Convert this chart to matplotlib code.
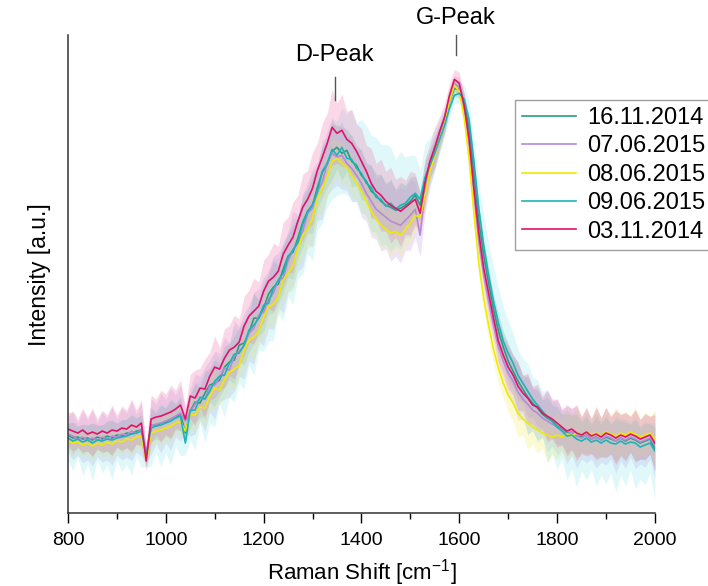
#!/usr/bin/env python
'''
    Raman spectra of several samples with shaded spread bands.
'''
import numpy as np
import matplotlib
matplotlib.use('Agg')
import matplotlib.pyplot as plt

plt.rcParams['font.family'] = ['Liberation Sans', 'DejaVu Sans']
plt.rcParams['mathtext.fontset'] = 'custom'
plt.rcParams['mathtext.rm'] = 'Liberation Sans'

# raman shift grid (cm^-1)
shift = np.arange(800, 2001, 10)

labels = ['16.11.2014', '07.06.2015', '08.06.2015', '09.06.2015', '03.11.2014']
colors = ['#2a9d80', '#b58ad9', '#f0ea00', '#1db4b8', '#e0136b']
band_colors = ['#4fb59a', '#c9a6e8', '#f4ef70', '#86e6ec', '#f07fb0']

# mean intensities (a.u.)
s_161114 = [78, 75, 76, 74, 75, 73, 76, 74, 77, 75, 78, 77, 80, 79, 82, 83, 55, 88, 87, 90,
            91, 94, 96, 99, 80, 102, 111, 110, 120, 128, 130, 133, 146, 151, 153, 168, 170, 180, 195, 195,
            205, 219, 226, 229, 244, 257, 261, 275, 291, 302, 308, 326, 341, 349, 362, 366, 360, 363, 352, 348,
            338, 332, 322, 318, 312, 308, 306, 303, 305, 308, 312, 318, 308, 334, 350, 362, 376, 392, 412, 425,
            424, 410, 385, 340, 292, 258, 230, 204, 182, 166, 152, 142, 132, 124, 116, 110, 105, 99, 95, 92,
            87, 84, 80, 81, 77, 76, 78, 74, 76, 73, 76, 74, 72, 75, 72, 75, 73, 70, 72, 74, 64]
s_070615 = [79, 77, 74, 76, 73, 75, 73, 76, 74, 77, 76, 79, 78, 82, 80, 84, 60, 87, 89, 90,
            92, 94, 97, 100, 92, 101, 109, 115, 114, 127, 128, 136, 145, 143, 157, 162, 167, 180, 185, 198,
            201, 214, 220, 233, 235, 252, 264, 270, 282, 300, 305, 322, 331, 350, 360, 356, 358, 350, 345, 338,
            330, 320, 312, 304, 300, 296, 292, 290, 288, 293, 298, 304, 278, 322, 344, 360, 376, 392, 414, 430,
            426, 404, 370, 318, 272, 238, 212, 188, 166, 152, 140, 132, 121, 114, 109, 103, 100, 95, 92, 89,
            86, 83, 79, 81, 77, 75, 78, 74, 76, 73, 77, 75, 72, 75, 73, 76, 74, 71, 73, 75, 68]
s_080615 = [72, 70, 71, 68, 70, 67, 70, 68, 71, 69, 72, 71, 74, 73, 76, 77, 52, 80, 82, 83,
            85, 87, 90, 92, 82, 99, 98, 106, 105, 117, 125, 123, 133, 141, 144, 148, 163, 173, 176, 182,
            196, 206, 209, 216, 233, 240, 247, 264, 278, 284, 295, 314, 325, 336, 352, 355, 350, 346, 338, 330,
            322, 312, 302, 294, 288, 284, 280, 282, 278, 284, 290, 298, 296, 318, 342, 358, 374, 390, 412, 428,
            422, 396, 355, 300, 250, 215, 188, 164, 145, 130, 118, 110, 100, 94, 90, 86, 83, 80, 78, 76,
            78, 76, 79, 77, 80, 78, 81, 78, 80, 77, 81, 79, 77, 80, 78, 81, 79, 76, 78, 80, 74]
s_090615 = [75, 72, 74, 71, 73, 70, 73, 72, 74, 73, 75, 76, 77, 79, 80, 82, 58, 85, 87, 88,
            90, 92, 95, 97, 70, 103, 103, 116, 114, 122, 132, 137, 138, 150, 159, 160, 168, 183, 188, 195,
            208, 210, 225, 233, 240, 256, 263, 271, 289, 301, 309, 321, 342, 350, 364, 358, 366, 355, 354, 345,
            340, 330, 326, 316, 314, 307, 310, 304, 308, 310, 316, 320, 314, 336, 348, 360, 374, 388, 405, 418,
            420, 414, 394, 352, 305, 268, 238, 212, 190, 172, 160, 150, 138, 130, 122, 114, 108, 102, 96, 92,
            86, 82, 77, 78, 74, 72, 75, 71, 73, 70, 73, 70, 69, 72, 69, 71, 70, 66, 68, 70, 62]
s_031114 = [84, 82, 80, 83, 79, 81, 79, 82, 80, 83, 82, 85, 84, 88, 86, 90, 52, 94, 96, 97,
            99, 101, 104, 108, 94, 117, 115, 125, 124, 137, 146, 144, 155, 163, 166, 171, 187, 197, 202, 207,
            222, 232, 236, 242, 259, 268, 276, 292, 306, 314, 325, 343, 356, 370, 386, 380, 383, 374, 370, 362,
            352, 342, 330, 322, 318, 312, 308, 305, 302, 306, 310, 314, 300, 330, 352, 366, 382, 396, 418, 434,
            430, 408, 375, 325, 280, 245, 220, 195, 172, 158, 146, 138, 127, 120, 115, 108, 106, 100, 97, 94,
            90, 86, 82, 84, 80, 78, 81, 77, 79, 76, 80, 78, 75, 78, 76, 79, 77, 74, 76, 78, 70]

# spread (half widths of the shaded bands)
w_161114 = [12, 16, 11, 15, 13, 17, 12, 14, 15, 18, 12, 16, 14, 19, 13, 15, 8,
            17, 13, 18, 14, 19, 13, 17, 10,
            16, 20, 15, 22, 17, 23, 16, 21, 18, 24, 17, 22, 19, 25, 18, 23, 20, 26, 19, 24, 21, 27, 20, 25, 22, 28, 21, 26, 23,
            28, 22, 27, 21, 26, 20, 25, 19, 26, 21, 27, 22, 28, 21, 26, 20, 24, 19, 14,
            18, 14, 15, 12, 11, 10, 8, 9,
            10, 12, 13, 15, 14, 16, 15, 17, 16, 18,
            16, 19, 14, 20, 15, 18, 14, 21, 16, 19, 15, 20, 17, 22, 15, 19, 14, 21, 16, 20, 15, 22, 17, 19, 14, 21, 16, 18, 15, 22]
w_070615 = [18, 24, 16, 26, 20, 28, 17, 25, 21, 29, 18, 26, 22, 30, 19, 27, 10,
            28, 20, 30, 22, 31, 21, 28, 12,
            24, 30, 22, 32, 26, 34, 24, 31, 27, 35, 25, 33, 28, 36, 26, 34, 29, 37, 27, 35, 30, 38, 28, 36, 31, 39, 29, 37, 32,
            36, 28, 34, 27, 33, 26, 34, 28, 36, 30, 38, 32, 40, 33, 38, 30, 35, 28, 22,
            22, 18, 16, 14, 12, 10, 8, 10,
            12, 14, 15, 17, 16, 19, 17, 20, 18, 22,
            22, 28, 20, 30, 21, 27, 19, 31, 22, 28, 20, 30, 23, 32, 21, 28, 20, 31, 22, 29, 21, 32, 23, 28, 20, 30, 22, 27, 21, 33]
w_080615 = [10, 14, 9, 13, 11, 15, 10, 12, 13, 16, 10, 14, 12, 17, 11, 13, 6,
            15, 11, 16, 12, 17, 11, 15, 8,
            14, 18, 13, 20, 15, 21, 14, 19, 16, 22, 15, 20, 17, 23, 16, 21, 18, 24, 17, 22, 19, 25, 18, 23, 20, 26, 19, 24, 21,
            24, 18, 22, 17, 21, 16, 20, 15, 22, 17, 23, 18, 24, 17, 22, 16, 20, 15, 10,
            14, 12, 11, 10, 9, 8, 7, 8,
            9, 11, 12, 14, 13, 15, 14, 16, 15, 17,
            18, 24, 16, 26, 17, 23, 15, 27, 18, 24, 16, 26, 19, 28, 17, 24, 16, 27, 18, 25, 17, 28, 19, 24, 16, 27, 18, 23, 17, 29]
w_090615_hi = [14, 18, 12, 17, 15, 20, 13, 16, 17, 21, 14, 18, 16, 22, 15, 19, 8,
               20, 15, 22, 16, 23, 15, 20, 10,
               18, 24, 17, 26, 20, 28, 18, 25, 21, 29, 19, 27, 22, 30, 20, 28, 23, 31, 21, 29, 24, 32, 22, 30, 25, 33, 23, 31, 26,
               30, 34, 40, 44, 50, 46, 54, 58, 52, 60, 55, 62, 56, 50, 54, 46, 42, 38, 30,
               34, 28, 24, 20, 16, 12, 10, 12,
               14, 18, 22, 26, 30, 32, 34, 36, 34, 32,
               30, 26, 24, 28, 22, 25, 20, 27, 21, 24, 19, 26, 22, 28, 20, 25, 19, 27, 21, 26, 20, 28, 22, 25, 19, 27, 21, 24, 20, 29]
w_090615_lo = [22, 30, 18, 34, 24, 38, 20, 32, 26, 40, 22, 35, 28, 42, 24, 36, 12,
               38, 26, 42, 30, 44, 28, 40, 12,
               30, 40, 26, 44, 32, 46, 28, 42, 34, 48, 30, 44, 36, 50, 32, 46, 38, 52, 34, 48, 40, 54, 36, 50, 42, 56, 38, 52, 44,
               50, 40, 46, 36, 42, 34, 40, 32, 44, 36, 46, 38, 48, 36, 44, 34, 40, 30, 20,
               26, 20, 18, 14, 12, 10, 8, 10,
               12, 14, 16, 18, 20, 22, 24, 26, 28, 30,
               32, 40, 28, 44, 30, 38, 26, 46, 32, 42, 28, 44, 34, 48, 30, 42, 28, 46, 32, 44, 30, 48, 34, 42, 28, 46, 32, 40, 30, 48]
w_031114 = [16, 20, 14, 22, 17, 24, 15, 21, 18, 25, 16, 22, 19, 26, 17, 23, 10,
            24, 18, 26, 20, 27, 19, 25, 12,
            22, 28, 20, 30, 24, 31, 22, 29, 25, 32, 23, 30, 26, 33, 24, 31, 27, 34, 25, 32, 28, 35, 26, 33, 29, 36, 27, 34, 30,
            38, 30, 36, 28, 34, 27, 33, 26, 35, 28, 36, 30, 38, 29, 35, 27, 32, 26, 20,
            24, 18, 20, 15, 14, 12, 10, 11,
            12, 14, 16, 18, 17, 20, 18, 21, 19, 22,
            20, 24, 18, 25, 19, 23, 17, 26, 20, 24, 18, 25, 21, 27, 19, 24, 18, 26, 20, 25, 19, 27, 21, 24, 18, 26, 20, 23, 19, 28]

means = [s_161114, s_070615, s_080615, s_090615, s_031114]
lower = [w_161114, w_070615, w_080615, w_090615_lo, w_031114]
upper = [w_161114, w_070615, w_080615, w_090615_hi, w_031114]
band_alpha = [0.3, 0.3, 0.3, 0.25, 0.3]

fig = plt.figure(figsize=(7.08, 5.86), dpi=100)
ax = fig.add_axes([0.096, 0.1246, 0.829, 0.815])

# bands first, then the lines on top
for m, lo, hi, bc, a in zip(means, lower, upper, band_colors, band_alpha):
    m = np.array(m, dtype=float)
    ax.fill_between(shift, m - np.array(lo), m + np.array(hi), color=bc, alpha=a, linewidth=0)
for m, c, lab in zip(means, colors, labels):
    ax.plot(shift, m, color=c, linewidth=1.2, label=lab)

ax.set_xlim(800, 2000)
ax.set_ylim(0, 478)
ax.set_yticks([])
ax.set_xticks(np.arange(800, 2001, 200))
ax.set_xticks(np.arange(900, 2000, 200), minor=True)
ax.tick_params(axis='x', which='major', direction='out', length=7, width=1, labelsize=14, pad=7)
ax.tick_params(axis='x', which='minor', direction='out', length=4, width=1)
for side in ('top', 'right'):
    ax.spines[side].set_visible(False)
for side in ('left', 'bottom'):
    ax.spines[side].set_linewidth(1.1)
    ax.spines[side].set_color('#333333')

# x label placed by baseline so the bracket stays inside the figure
fig.text((68 + 655) / 2 / 708, 1 - 579 / 586, r'Raman Shift [cm$^{\mathrm{-1}}$]',
         ha='center', va='baseline', fontsize=16)
ax.set_ylabel('Intensity [a.u.]', fontsize=16.5, labelpad=12)

# peak markers
ax.plot([1345, 1345], [413, 436], color='#555555', linewidth=1)
ax.text(1345, 447, 'D-Peak', ha='center', va='bottom', fontsize=17)
ax.plot([1593, 1593], [458, 478], color='#555555', linewidth=1, clip_on=False)
ax.text(1593, 484, 'G-Peak', ha='center', va='bottom', fontsize=17, clip_on=False)

leg = ax.legend(loc='upper left', bbox_to_anchor=(515 / 708, 1 - 100 / 586),
                bbox_transform=fig.transFigure, fontsize=17, frameon=True,
                fancybox=False, handlelength=2.3, handletextpad=0.45,
                labelspacing=0.27, borderpad=0.3, borderaxespad=0)
leg.get_frame().set_edgecolor('#888888')
leg.get_frame().set_linewidth(1)

fig.savefig('out.png', dpi=100)
